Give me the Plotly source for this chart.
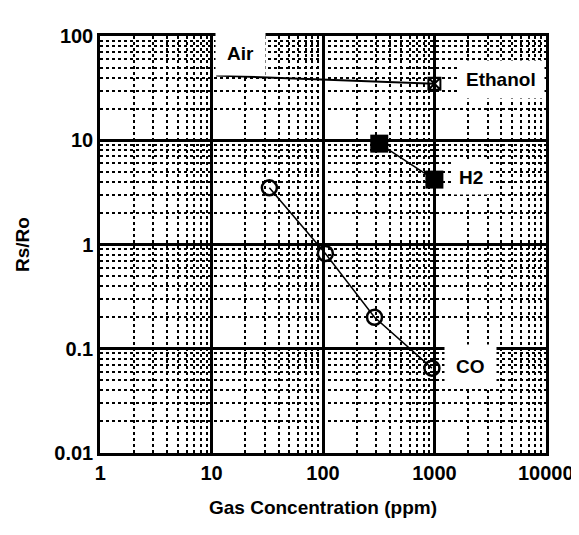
import math
import plotly.graph_objects as go

# Data
co_ppm = [33, 105, 290, 950]
co_ratio = [3.5, 0.82, 0.2, 0.065]

h2_ppm = [320, 1000]
h2_ratio = [9.3, 4.2]

ethanol_ppm = [11, 1000]
ethanol_ratio = [42, 35]

x_ticks = [1, 10, 100, 1000, 10000]
x_tick_text = ["1", "10", "100", "1000", "10000"]
y_ticks = [0.01, 0.1, 1, 10, 100]
y_tick_text = ["0.01", "0.1", "1", "10", "100"]

FONT = "Liberation Sans, Arial, Helvetica, sans-serif"

fig = go.Figure()

fig.add_trace(go.Scatter(
    x=ethanol_ppm, y=ethanol_ratio, mode="lines",
    line=dict(color="black", width=2), showlegend=False, hoverinfo="skip"))
fig.add_trace(go.Scatter(
    x=ethanol_ppm[-1:], y=ethanol_ratio[-1:], mode="markers",
    marker=dict(symbol="square-x-open", size=12, color="black", line=dict(width=2)),
    showlegend=False))

fig.add_trace(go.Scatter(
    x=h2_ppm, y=h2_ratio, mode="lines+markers",
    line=dict(color="black", width=1.5),
    marker=dict(symbol="square", size=18, color="black"),
    showlegend=False))

fig.add_trace(go.Scatter(
    x=co_ppm, y=co_ratio, mode="lines+markers",
    line=dict(color="black", width=1.5),
    marker=dict(symbol="circle-open", size=15, color="black", line=dict(width=2.5)),
    showlegend=False))

label_font = dict(family=FONT, size=19, color="black", weight="bold")
# label text, x (ppm), y (Rs/Ro), padding
labels = [
    ("Air", 18, 68, 11),
    ("Ethanol", 4000, 38, 8),
    ("H2", 2150, 4.4, 6),
    ("CO", 2100, 0.068, 11),
]
for text, x, y, pad in labels:
    fig.add_annotation(x=math.log10(x), y=math.log10(y), xref="x", yref="y",
                       text=text, showarrow=False,
                       font=label_font, bgcolor="white", borderpad=pad)

tick_font = dict(family=FONT, size=20, color="black", weight="bold")
title_font = dict(family=FONT, size=19, color="black", weight="bold")

fig.update_xaxes(
    type="log", range=[-0.002, 4.002],
    tickvals=x_ticks, ticktext=x_tick_text, tickfont=tick_font,
    ticklabeloverflow="allow",
    ticks="", showline=True, linecolor="black", linewidth=2.5, mirror=True,
    showgrid=True, gridcolor="black", gridwidth=2.5,
    minor=dict(showgrid=True, gridcolor="black", griddash="dot", gridwidth=1.5, dtick="D1"),
    title=dict(text="Gas Concentration (ppm)", font=title_font, standoff=18),
    zeroline=False, automargin=False,
)
fig.update_yaxes(
    type="log", range=[-2.002, 2.002],
    tickvals=y_ticks, ticktext=y_tick_text, tickfont=tick_font,
    ticklabeloverflow="allow",
    ticks="", showline=True, linecolor="black", linewidth=2.5, mirror=True,
    showgrid=True, gridcolor="black", gridwidth=2.5,
    minor=dict(showgrid=True, gridcolor="black", griddash="dot", gridwidth=1.5, dtick="D1"),
    title=dict(text="Rs/Ro", font=title_font, standoff=20),
    zeroline=False, automargin=False,
)

fig.update_layout(
    width=579, height=535,
    margin=dict(l=92, r=41, t=28, b=90, autoexpand=False),
    plot_bgcolor="white", paper_bgcolor="white",
    font=dict(family=FONT, color="black"),
)

fig.write_html("out.html")
